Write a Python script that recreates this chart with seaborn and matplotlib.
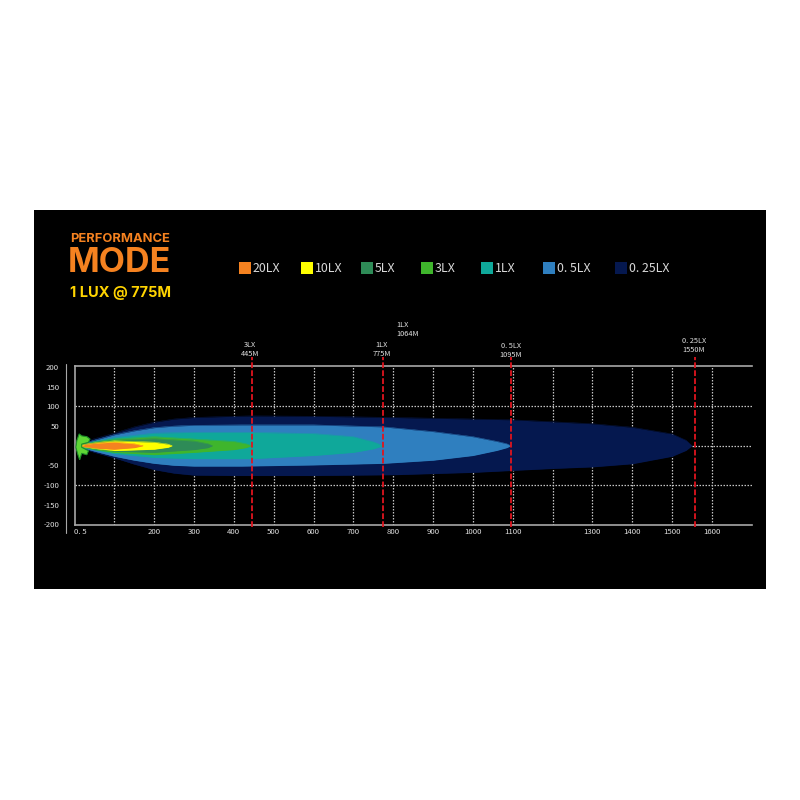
import pandas as pd
import seaborn as sns
import matplotlib
matplotlib.use("Agg")
import matplotlib.pyplot as plt
from matplotlib.patches import Rectangle

levels = ["0.25LX", "0.5LX", "1LX", "3LX", "5LX", "10LX", "20LX"]
legend_labels = ["20LX", "10LX", "5LX", "3LX", "1LX", "0. 5LX", "0. 25LX"]
legend_colors = ["#f58220", "#ffff00", "#2e8b57", "#3fb52c", "#0fa89a", "#2f7fbf", "#05184f"]
legend_px = [239, 301, 361, 421, 481, 543, 615]

d_025 = [8, 50, 100, 150, 200, 250, 300, 400, 445, 600, 800, 1000, 1100, 1200, 1300, 1400, 1500, 1535, 1550]
u_025 = [3, 18, 32, 48, 60, 68, 72, 75, 76, 75, 72, 68, 66, 61, 56, 47, 30, 14, 0]
l_025 = [-3, -17, -31, -47, -61, -70, -75, -76, -76, -76, -74, -68, -63, -58, -54, -46, -27, -12, 0]

d_05 = [8, 50, 100, 150, 200, 250, 300, 420, 600, 775, 900, 1000, 1060, 1085, 1095]
u_05 = [2, 14, 28, 38, 46, 50, 52, 53, 53, 48, 36, 23, 11, 5, 0]
l_05 = [-2, -14, -27, -37, -45, -50, -52, -52, -49, -45, -37, -25, -12, -5, 0]

d_1 = [10, 50, 100, 200, 300, 445, 600, 700, 750, 775]
u_1 = [2, 11, 21, 32, 34, 34, 31, 23, 10, 0]
l_1 = [-2, -10, -20, -30, -33, -33, -25, -17, -8, 0]

d_3 = [12, 50, 100, 200, 300, 400, 430, 445]
u_3 = [2, 10, 17, 23, 17, 11, 5, 0]
l_3 = [-2, -10, -17, -23, -17, -10, -5, 0]

d_5 = [15, 60, 100, 200, 300, 335, 346]
u_5 = [2, 9, 14, 18, 12, 5, 0]
l_5 = [-2, -9, -14, -17, -10, -5, 0]

d_10 = [14, 60, 100, 200, 235, 245]
u_10 = [2, 8.5, 12.5, 9, 4, 0]
l_10 = [-2, -8.5, -12.5, -9, -4, 0]

d_20 = [18, 30, 60, 100, 150, 172]
u_20 = [1, 4, 7, 9, 5, 0]
l_20 = [-1, -4, -7, -9, -5, 0]

blob_x = [3.4, 5.9, 11.8, 18, 31, 39, 35, 18, 18, 35, 31, 18, 13, 8]
blob_y = [-4, 13, 30, 25, 23, 17, 8.5, 4, -4, -13, -23, -19.5, -36, -21]

markers_x = [445, 775, 1097, 1557]
marker_lines = [["3LX", "445M"], ["1LX", "775M"], ["0. 5LX", "1095M"], ["0. 25LX", "1550M"]]
x_grid = list(range(100, 1700, 100))
x_labelled = [0, 200, 300, 400, 500, 600, 700, 800, 900, 1000, 1100, 1300, 1400, 1500, 1600]
x_labels = ["0. 5", "200", "300", "400", "500", "600", "700", "800", "900", "1000", "1100", "1300", "1400", "1500", "1600"]
y_ticks = [200, 150, 100, 50, -50, -100, -150, -200]
y_labels = ["200", "150", "100", "50", "-50", "-100", "-150", "-200"]

shapes = [(d_025, u_025, l_025), (d_05, u_05, l_05), (d_1, u_1, l_1), (d_3, u_3, l_3),
          (d_5, u_5, l_5), (d_10, u_10, l_10), (d_20, u_20, l_20)]
shape_colors = dict(zip(levels, ["#05184f", "#2f7fbf", "#0fa89a", "#3fb52c", "#2e8b57", "#ffff00", "#f58220"]))

sns.set_theme(style="dark", rc={"axes.facecolor": "black", "figure.facecolor": "white"})
label_font = ["Noto Sans CJK SC", "DejaVu Sans"]
plt.rcParams["font.family"] = label_font

W = H = 800
fig = plt.figure(figsize=(8, 8), dpi=100)
fx = lambda p: p / W
fy = lambda p: 1 - p / H

fig.add_artist(Rectangle((fx(34), fy(588.5)), 732 / W, 378.5 / H, transform=fig.transFigure,
                         facecolor="black", edgecolor="none", zorder=-5))

ax = fig.add_axes([fx(74.5), fy(525), (751.7 - 74.5) / W, (525 - 366) / H])
ax.set_xlim(0, 1700)
ax.set_ylim(-202, 203)

grid_kw = dict(colors="#c4c4c4", linestyles=(0, (1.2, 1.2)), linewidth=0.9, zorder=1)
ax.vlines(x_grid, -202, 203, **grid_kw)
ax.hlines([100, -100], 0, 1700, **grid_kw)
ax.hlines([0], 1550, 1700, **grid_kw)

rows = []
for lev, (d, u, l) in zip(levels, shapes):
    ax.fill_between(d, u, l, color=shape_colors[lev], linewidth=0, zorder=2)
    rows += [{"level": lev, "d": a, "w": b, "side": "up"} for a, b in zip(d, u)]
    rows += [{"level": lev, "d": a, "w": b, "side": "low"} for a, b in zip(d, l)]
df = pd.DataFrame(rows)
sns.lineplot(data=df, x="d", y="w", hue="level", units="side", estimator=None, palette=shape_colors,
             hue_order=levels, linewidth=0.3, legend=False, ax=ax, zorder=3, sort=True)

ax.fill(blob_x, blob_y, facecolor="#5fd636", zorder=4, linewidth=0.8, edgecolor="#1f8f2a", clip_on=False)

ax.vlines(markers_x, -208, 225, colors="#e0141e", linestyles=(0, (3.2, 1.2)), linewidth=1.3, zorder=6, clip_on=False)

ax.set_xlabel("")
ax.set_ylabel("")
ax.set_xticks(x_labelled, x_labels, fontsize=5.6, color="#e0e0e0")
ax.set_yticks(y_ticks, y_labels, fontsize=5.6, color="#e0e0e0", ha="right")
ax.get_xticklabels()[0].set_ha("left")
ax.tick_params(axis="both", length=0)
ax.tick_params(axis="x", pad=2)
ax.tick_params(axis="y", pad=11)
ax.grid(False)
for side in ["top", "left", "bottom", "right"]:
    ax.spines[side].set_visible(side in ("top", "left", "bottom"))
    ax.spines[side].set_color("#a8a8a8")
    ax.spines[side].set_linewidth(1.2)

fig.add_artist(plt.Line2D([fx(65.6)] * 2, [fy(364), fy(533)], color="#a8a8a8", linewidth=0.8))

for label, color, px in zip(legend_labels, legend_colors, legend_px):
    fig.add_artist(Rectangle((fx(px), fy(274)), 12 / W, 12 / H, transform=fig.transFigure,
                             facecolor=color, edgecolor="none"))
    fig.text(fx(px + 14), fy(268), label, color="#d8d8d8", fontsize=8.9, va="center", ha="left")

note_px = [(250, 345), (382, 345), (511, 346), (694, 341)]
for lines, (px, py) in zip(marker_lines, note_px):
    fig.text(fx(px), fy(py), lines[0], color="#e0e0e0", fontsize=5.3, ha="center", va="center")
    fig.text(fx(px), fy(py + 9), lines[1], color="#e0e0e0", fontsize=5.3, ha="center", va="center")
fig.text(fx(396), fy(325), "1LX", color="#e0e0e0", fontsize=5.3, ha="left", va="center")
fig.text(fx(396), fy(334), "1064M", color="#e0e0e0", fontsize=5.3, ha="left", va="center")

head = ["Inter", "DejaVu Sans"]
fig.text(fx(70), fy(239), "PERFORMANCE", color="#f58220", fontsize=9.3, fontweight="bold", family=head, va="center", ha="left")
fig.text(fx(68), fy(263.5), "MODE", color="#f58220", fontsize=24.5, fontweight="bold", family=head, va="center", ha="left")
fig.text(fx(70), fy(293), "1 LUX @ 775M", color="#ffd400", fontsize=10.5, fontweight="bold", family=head, va="center", ha="left")

fig.savefig("out.png", dpi=100)
